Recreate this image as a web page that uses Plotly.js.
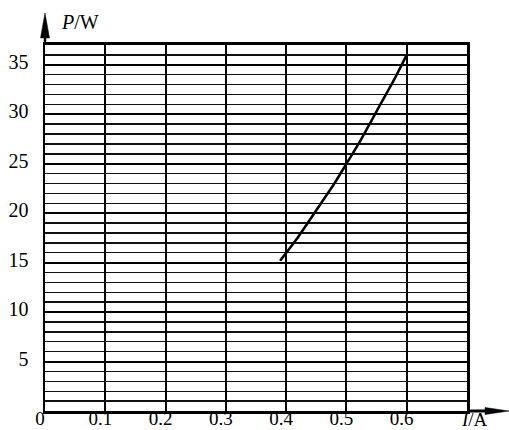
<!DOCTYPE html>
<html>
<head>
<meta charset="utf-8">
<script src="https://cdn.plot.ly/plotly-3.0.1.min.js"></script>
<style>html,body{margin:0;padding:0;background:#fff;}#chart{width:509px;height:430px;}</style>
</head>
<body>
<div id="chart"></div>
<script>
// Data
var currentA = [0.39, 0.42, 0.45, 0.48, 0.50, 0.52, 0.55, 0.58, 0.60];
var powerW   = [15.2, 17.6, 20.3, 23.0, 25.0, 27.0, 30.3, 33.6, 36.0];
var xTickVals = [0, 0.1, 0.2, 0.3, 0.4, 0.5, 0.6, 0.7];
var xTickText = ['0', '0.1', '0.2', '0.3', '0.4', '0.5', '0.6', ''];
var yTickVals = [5, 10, 15, 20, 25, 30, 35];
var yTickText = ['5', '10', '15', '20', '25', '30', '35'];
var xRange = [0, 0.7];
var yRange = [0, 37];

var font = {family: '"Liberation Serif", "Times New Roman", serif', size: 20, color: '#000'};
var xFont = {family: '"Liberation Serif", "Times New Roman", serif', size: 19, color: '#000'};

var trace = {
  x: currentA, y: powerW, type: 'scatter', mode: 'lines',
  line: {color: '#000', width: 2.5, shape: 'spline', smoothing: 0.6},
  hoverinfo: 'skip', cliponaxis: false
};

var layout = {
  width: 509, height: 430,
  margin: {l: 45, r: 42, t: 45, b: 19, pad: 0},
  paper_bgcolor: '#fff', plot_bgcolor: '#fff',
  showlegend: false,
  font: font,
  xaxis: {
    range: xRange, tickmode: 'array', tickvals: xTickVals, ticktext: xTickText,
    showgrid: true, gridcolor: '#000', gridwidth: 2,
    zeroline: false, showline: true, linecolor: '#000', linewidth: 3, mirror: true,
    ticks: '', ticklabelstandoff: -12, ticklabelshift: -5,
    tickfont: xFont, fixedrange: true
  },
  yaxis: {
    range: yRange, tickmode: 'array', tickvals: yTickVals, ticktext: yTickText,
    showgrid: true, gridcolor: '#000', gridwidth: 2,
    minor: {tick0: 0, dtick: 1, showgrid: true, gridcolor: '#111', gridwidth: 1.4, ticks: ''},
    zeroline: false, showline: true, linecolor: '#000', linewidth: 2.5, mirror: true,
    ticks: '', ticklabelstandoff: 10, ticklabelshift: -3,
    tickfont: font, fixedrange: true
  },
  shapes: [
    // y-axis arrow shaft and head
    {type: 'line', xref: 'paper', yref: 'paper', x0: 0, x1: 0, y0: 1, y1: 1.04,
     line: {color: '#000', width: 2.5}},
    {type: 'path', xref: 'paper', yref: 'paper',
     path: 'M 0 1.0874 L -0.0107 1.0191 L 0.0107 1.0191 Z',
     fillcolor: '#000', line: {color: '#000', width: 0.5}},
    // x-axis arrow shaft and head
    {type: 'line', xref: 'paper', yref: 'paper', x0: 1, x1: 1.05, y0: 0, y1: 0,
     line: {color: '#000', width: 3}},
    {type: 'path', xref: 'paper', yref: 'paper',
     path: 'M 1.0995 0 L 1.0427 0.0096 L 1.0427 -0.0096 Z',
     fillcolor: '#000', line: {color: '#000', width: 0.5}}
  ],
  annotations: [
    {text: '<i>P</i>/W', xref: 'paper', yref: 'paper', x: 0.033, y: 1.063,
     xanchor: 'left', yanchor: 'middle', showarrow: false, font: font},
    {text: '<i>I</i>/A', xref: 'paper', yref: 'paper', x: 0.981, y: -0.022,
     xanchor: 'left', yanchor: 'middle', showarrow: false, font: xFont}
  ]
};

Plotly.newPlot('chart', [trace], layout, {displayModeBar: false, staticPlot: true});
</script>
</body>
</html>
